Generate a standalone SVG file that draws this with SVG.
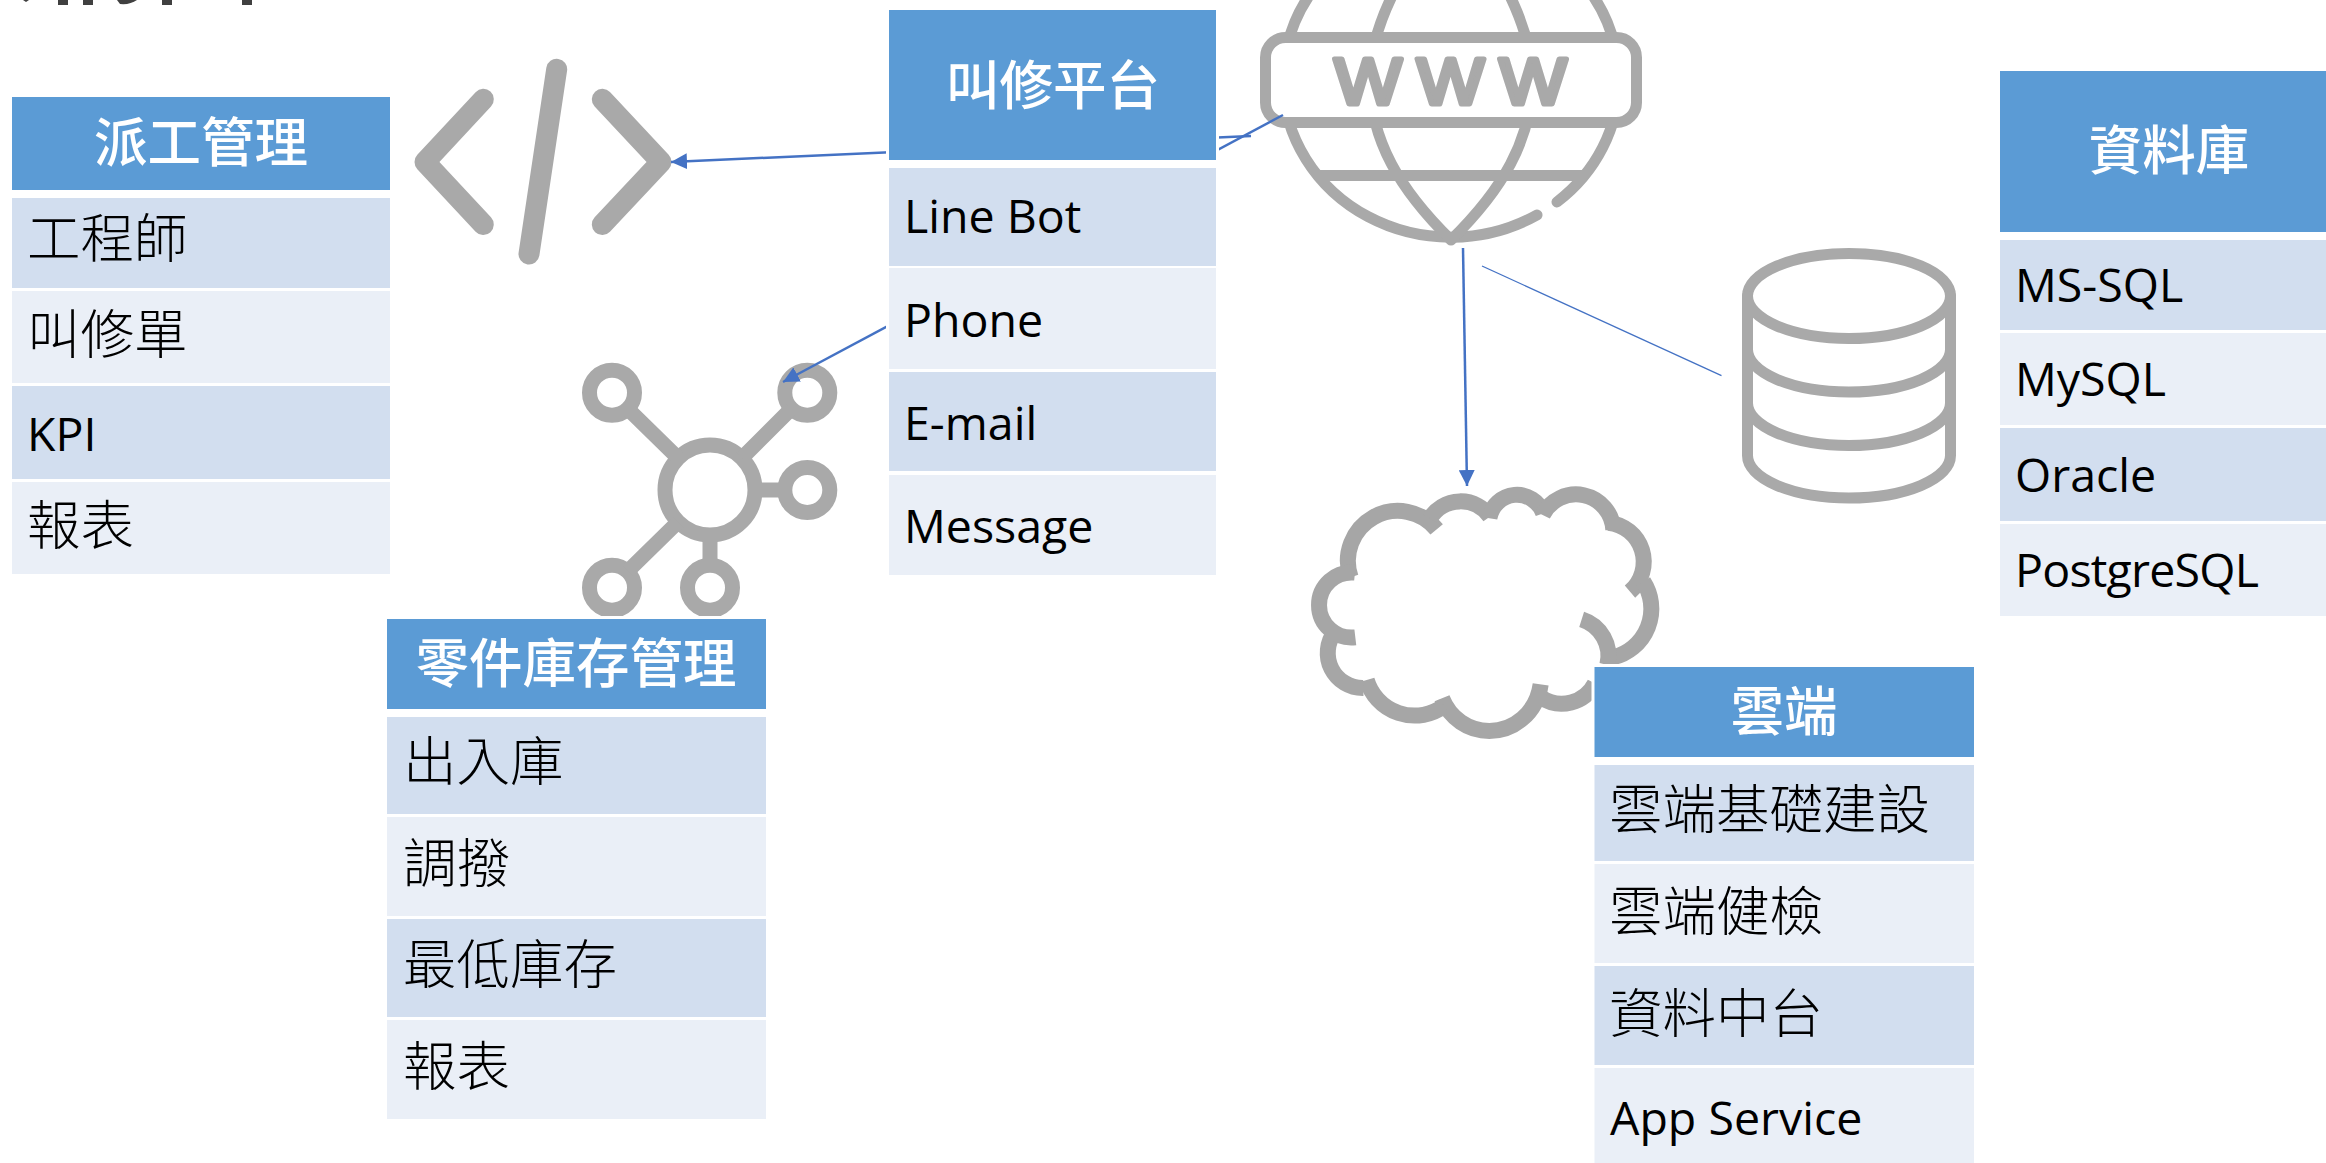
<svg xmlns="http://www.w3.org/2000/svg" width="2326" height="1163" viewBox="0 0 2326 1163">
<defs>
<style>
.hd{fill:#5B9BD5}.a{fill:#D2DEEF}.b{fill:#EAEFF7}.halo{fill:#fff}
.t{font-family:"Noto Sans CJK TC","Noto Sans",sans-serif;font-size:53.500px;font-weight:300;fill:#000}
.l{font-family:"Open Sans","Noto Sans",sans-serif;font-size:46.500px;fill:#000}
.h{font-family:"Noto Sans CJK TC","Noto Sans",sans-serif;font-size:53.500px;font-weight:500;fill:#fff;text-anchor:middle}
.ic{fill:none;stroke:#A9A9A9;stroke-width:11;stroke-linecap:round;stroke-linejoin:round}
.ln{fill:none;stroke:#4472C4;stroke-width:2.5}
</style>
<marker id="ah" markerUnits="userSpaceOnUse" markerWidth="18" markerHeight="16" refX="16" refY="8" orient="auto"><path d="M0 0L16 8L0 16Z" fill="#4472C4"/></marker>
</defs>
<rect width="2326" height="1163" fill="#fff"/>
<g id="title-remnant" fill="#404040"><rect x="58" y="0" width="10" height="5"/><rect x="83" y="0" width="10" height="5"/><path d="M117 0H137Q130 5 120 4Z"/><rect x="162" y="0" width="10" height="5"/><rect x="242" y="0" width="10" height="5"/><path d="M23 0H29L26 2Z"/></g>

<g id="icon-code" class="ic" style="stroke-width:21"><path d="M483.300 99.300L425 162L483.300 224.500"/><path d="M602.300 99.300L661 162L602.300 224.500"/><path d="M556.700 69.300L529 254"/></g>
<g id="icon-hub" class="ic" style="stroke-width:15;stroke-linecap:butt">
<circle cx="710" cy="490" r="45"/><circle cx="612" cy="392.700" r="22.500"/><circle cx="807.300" cy="392.700" r="22.500"/><circle cx="807.300" cy="490" r="22.500"/><circle cx="612" cy="587.700" r="22.500"/><circle cx="710" cy="587.700" r="22.500"/>
<path d="M628 409L678 458M791 409L742 458M755 490H785M678 522L628 571M710 535V565"/></g>
<g id="icon-globe">
<g class="ic"><path d="M1557 202A168 157.500 0 0 0 1619 80A168 157.500 0 0 0 1283 80A168 157.500 0 0 0 1537 215"/>
<path d="M1392 -4C1378 25 1370 55 1370 80C1370 140 1400 190 1451 240C1502 190 1532 140 1532 80C1532 55 1524 25 1510 -4"/>
<path d="M1317 175.500H1585" style="stroke-linecap:butt"/>
<rect x="1265.500" y="37.500" width="371" height="85" rx="20" fill="#fff"/></g>
<text transform="translate(1334.500 103.500) scale(1.110 1)" style="font-family:'Liberation Sans',sans-serif;font-size:64px;letter-spacing:13.900px;fill:#A9A9A9;stroke:#A9A9A9;stroke-width:5;stroke-linejoin:round">WWW</text>
</g>
<g id="icon-database" class="ic"><ellipse cx="1849" cy="296" rx="101.500" ry="42.500"/><path d="M1747.500 296V455.500A101.500 42.500 0 0 0 1950.500 455.500V296M1747.500 349.500A101.500 42.500 0 0 0 1950.500 349.500M1747.500 403A101.500 42.500 0 0 0 1950.500 403"/></g>
<g id="icon-cloud" transform="translate(1280 450) scale(.33333)" fill="none" stroke="#A6A6A6" stroke-width="48">
<path d="M212 382A150 150 0 0 1 470 238"/><path d="M450 205A108 108 0 0 1 630 200"/><path d="M628 205A84 84 0 0 1 790 190"/><path d="M788 195A112 112 0 0 1 1000 240"/><path d="M985 218A118 118 0 0 1 1050 425"/><path d="M1090 395A150 150 0 0 1 1000 622"/><path d="M905 508A115 115 0 0 1 982 645"/><path d="M945 700A112 112 0 0 1 783 742"/><path d="M782 703C770 790 700 843 628 843C565 843 510 805 486 745"/><path d="M492 768A150 150 0 0 1 260 690"/><path d="M250 714A105 105 0 0 1 165 545"/><path d="M226 562A97.600 97.600 0 1 1 225 368"/>
</g>

<g id="connectors">
<path class="ln" d="M1251 136L671 162" marker-end="url(#ah)"/>
<path class="ln" d="M1283 115L783 382" marker-end="url(#ah)"/>
<path class="ln" d="M1463 248L1467 486" marker-end="url(#ah)"/>
<path class="ln" style="stroke-width:1.300" d="M1482 266L1721.500 375.700"/>
</g>

<g id="table-dispatch"><rect class="halo" x="9" y="94" width="384" height="483"/><rect class="hd" x="12" y="97" width="378" height="93"/><rect class="a" x="12" y="198" width="378" height="90"/><rect class="b" x="12" y="291" width="378" height="92"/><rect class="a" x="12" y="386" width="378" height="93"/><rect class="b" x="12" y="482" width="378" height="92"/>
<text class="h" x="201" y="162">派工管理</text><text class="t" x="27" y="258">工程師</text><text class="t" x="27" y="354">叫修單</text><text class="l" x="27" y="451">KPI</text><text class="t" x="27" y="545">報表</text></g>

<g id="table-platform"><rect class="halo" x="886" y="7" width="333" height="571"/><rect class="hd" x="889" y="10" width="327" height="150"/><rect class="a" x="889" y="168" width="327" height="98"/><rect class="b" x="889" y="268" width="327" height="101"/><rect class="a" x="889" y="372" width="327" height="99"/><rect class="b" x="889" y="475" width="327" height="100"/>
<text class="h" x="1053" y="105">叫修平台</text><text class="l" x="904" y="233">Line Bot</text><text class="l" x="904" y="337">Phone</text><text class="l" x="904" y="440">E-mail</text><text class="l" x="904" y="543">Message</text></g>

<g id="table-database"><rect class="halo" x="1997" y="68" width="329" height="551"/><rect class="hd" x="2000" y="71" width="326" height="161"/><rect class="a" x="2000" y="240" width="326" height="90"/><rect class="b" x="2000" y="333" width="326" height="92"/><rect class="a" x="2000" y="428" width="326" height="93"/><rect class="b" x="2000" y="524" width="326" height="92"/>
<text class="h" x="2169" y="170">資料庫</text><text class="l" x="2015" y="302">MS-SQL</text><text class="l" x="2015" y="396">MySQL</text><text class="l" x="2015" y="492">Oracle</text><text class="l" x="2015" y="587" textLength="244">PostgreSQL</text></g>

<g id="table-inventory"><rect class="halo" x="384" y="616" width="385" height="506"/><rect class="hd" x="387" y="619" width="379" height="90"/><rect class="a" x="387" y="717" width="379" height="97"/><rect class="b" x="387" y="817" width="379" height="99"/><rect class="a" x="387" y="919" width="379" height="98"/><rect class="b" x="387" y="1020" width="379" height="99"/>
<text class="h" x="576" y="683">零件庫存管理</text><text class="t" x="403" y="781">出入庫</text><text class="t" x="403" y="883">調撥</text><text class="t" x="403" y="984">最低庫存</text><text class="t" x="403" y="1086">報表</text></g>

<g id="table-cloud"><rect class="halo" x="1591.500" y="664" width="385.500" height="499"/><rect class="hd" x="1594.500" y="667" width="379.500" height="90"/><rect class="a" x="1594.500" y="765" width="379.500" height="96"/><rect class="b" x="1594.500" y="864" width="379.500" height="99"/><rect class="a" x="1594.500" y="966" width="379.500" height="99"/><rect class="b" x="1594.500" y="1068" width="379.500" height="95"/>
<text class="h" x="1784" y="731">雲端</text><text class="t" x="1609" y="829">雲端基礎建設</text><text class="t" x="1609" y="931">雲端健檢</text><text class="t" x="1609" y="1033">資料中台</text><text class="l" x="1610" y="1135">App Service</text></g>
</svg>
